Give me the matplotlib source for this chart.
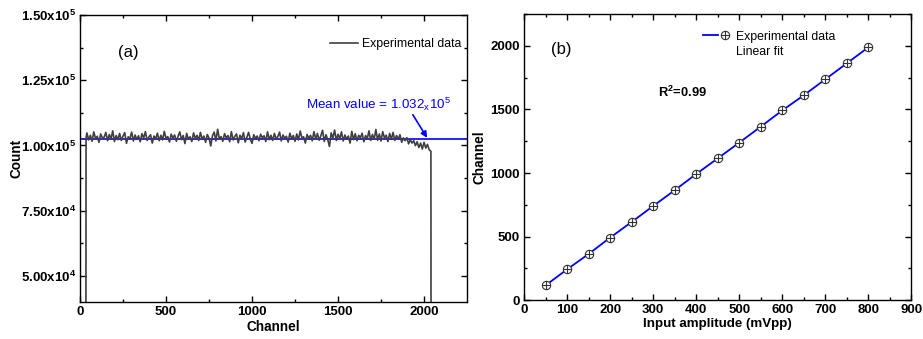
import numpy as np
import matplotlib
matplotlib.use("Agg")
import matplotlib.pyplot as plt
from matplotlib.path import Path
from matplotlib.lines import Line2D
from matplotlib.legend_handler import HandlerTuple

plt.rcParams['font.family'] = ['Liberation Sans', 'DejaVu Sans']
plt.rcParams['mathtext.fontset'] = 'custom'
plt.rcParams['mathtext.rm'] = 'Liberation Sans'
plt.rcParams['mathtext.bf'] = 'Liberation Sans:bold'

# ---------------- Panel (a) data ----------------
# counts in thousands, every 10 channels from 40 to 2030
chan_start = 35
chan_end = 2040
counts_k = [
    104.8, 102.1, 103.9, 101.6, 105.2, 102.7, 103.5, 101.2, 104.4, 102.9,
    103.1, 105.0, 101.8, 104.2, 102.4, 105.6, 101.5, 103.8, 102.2, 104.6,
    101.9, 103.6, 104.9, 100.8, 103.3, 102.6, 105.1, 101.7, 104.0, 102.3,
    103.7, 101.4, 104.5, 102.8, 105.3, 101.9, 103.2, 104.1, 100.9, 103.6,
    102.5, 104.7, 101.8, 103.9, 102.1, 105.4, 102.6, 103.4, 101.3, 104.3,
    102.9, 104.0, 101.6, 103.5, 105.2, 102.2, 103.8, 100.7, 104.6, 102.4,
    103.3, 101.5, 104.8, 102.7, 103.9, 101.9, 105.0, 102.3, 103.6, 101.2,
    104.2, 102.8, 99.8, 103.7, 105.1, 101.7, 106.2, 102.5, 103.4, 101.6,
    104.5, 102.9, 103.8, 101.4, 105.3, 102.1, 103.5, 104.4, 101.0, 103.9,
    102.6, 104.9, 101.3, 103.2, 105.0, 102.4, 100.8, 104.1, 102.7, 103.6,
    101.8, 104.3, 102.9, 103.7, 101.5, 105.2, 102.2, 103.9, 101.9, 104.6,
    102.5, 103.4, 105.1, 101.7, 104.0, 102.8, 103.5, 101.3, 104.7, 102.6,
    103.8, 101.6, 104.4, 102.1, 105.5, 102.9, 103.3, 100.9, 104.2, 102.7,
    103.9, 101.8, 105.3, 102.4, 104.6, 102.0, 103.7, 105.8, 101.5, 104.1,
    102.3, 99.6, 104.8, 102.8, 105.9, 101.9, 104.3, 102.6, 105.2, 101.7,
    104.0, 102.5, 103.6, 100.9, 105.4, 102.2, 104.5, 101.8, 103.9, 102.9,
    104.7, 101.4, 103.8, 102.6, 105.6, 101.9, 104.2, 102.4, 106.1, 102.0,
    104.4, 101.7, 105.3, 102.8, 103.9, 101.5, 104.6, 102.3, 105.0, 101.9,
    103.8, 102.4, 104.1, 101.2, 102.9, 101.8, 103.0, 100.6, 102.2, 100.9,
    101.8, 99.9, 101.4, 99.2, 100.9, 98.6, 101.2, 99.0, 100.4, 98.3,
]
first_count_k = 103.0
last_count_k = 97.8
mean_line = 102300
mean_text = r'Mean value = 1.032$_{\mathregular{x}}$10$^{\mathregular{5}}$'

channels = [chan_start - 1, chan_start] + list(range(40, 2031, 10)) + [chan_end, chan_end + 1]
counts = [0, first_count_k * 1000] + [c * 1000 for c in counts_k] + [last_count_k * 1000, 0]

a_yticks = [5.0e4, 7.5e4, 1.0e5, 1.25e5, 1.5e5]
a_ylabels = [r'$\mathbf{5.00x10^{4}}$', r'$\mathbf{7.50x10^{4}}$', r'$\mathbf{1.00x10^{5}}$',
             r'$\mathbf{1.25x10^{5}}$', r'$\mathbf{1.50x10^{5}}$']

# ---------------- Panel (b) data ----------------
amplitude = [50, 100, 150, 200, 250, 300, 350, 400, 450, 500, 550, 600, 650, 700, 750, 800]
channel_b = [115, 241, 362, 491, 614, 740, 864, 992, 1115, 1239, 1365, 1493, 1612, 1738, 1864, 1990]

fig = plt.figure(figsize=(9.23, 3.39), dpi=100)
axa = fig.add_axes([0.0867, 0.109, 0.4193, 0.847])
axb = fig.add_axes([0.5677, 0.115, 0.4198, 0.843])

for ax in (axa, axb):
    for s in ax.spines.values():
        s.set_linewidth(1.0)
    ax.tick_params(which='both', direction='in', top=True, right=True, width=1.0)
    ax.tick_params(which='major', length=4)
    ax.tick_params(which='minor', length=2)
    ax.tick_params(axis='both', labelsize=9.5, pad=3)

# ---- (a)
gray = '#3f3f3f'
axa.axhline(mean_line, color='#0000ff', lw=1.2, zorder=1)
axa.plot(channels, counts, color=gray, lw=1.2, label='Experimental data', zorder=2)
axa.set_xlim(0, 2250)
axa.set_ylim(4.0e4, 1.5e5)
axa.set_xticks([0, 500, 1000, 1500, 2000])
axa.set_xticks([250, 750, 1250, 1750], minor=True)
axa.set_xticklabels(['0', '500', '1000', '1500', '2000'], fontweight='bold')
axa.set_yticks(a_yticks)
axa.set_yticks([6.25e4, 8.75e4, 1.125e5, 1.375e5], minor=True)
axa.set_yticklabels(a_ylabels)
axa.set_xlabel('Channel', fontsize=9.8, fontweight='bold', labelpad=1)
axa.set_ylabel('Count', fontsize=9.8, fontweight='bold', labelpad=-2)
axa.text(0.098, 0.868, '(a)', transform=axa.transAxes, fontsize=12, va='center')
axa.text(1315, 1.157e5, mean_text, color='#0000ff', fontsize=9.6, va='center')
axa.annotate('', xy=(2018, 1.029e5), xytext=(1935, 1.1175e5),
             arrowprops=dict(arrowstyle='-|>', color='#0000ff', lw=1.2, mutation_scale=9,
                             shrinkA=0, shrinkB=0))
axa.legend(loc='center left', bbox_to_anchor=(0.646, 0.899), frameon=False, fontsize=8.8,
           handlelength=2.3, handletextpad=0.35, borderpad=0, borderaxespad=0)

# ---- (b)
circ = Path.unit_circle()
verts = np.concatenate([circ.vertices, [[-1, 0], [1, 0], [0, -1], [0, 1]]])
codes = np.concatenate([circ.codes, [Path.MOVETO, Path.LINETO, Path.MOVETO, Path.LINETO]])
cplus = Path(verts, codes)

axb.plot(amplitude, channel_b, color='#0000ff', lw=1.3, zorder=2)
axb.plot(amplitude, channel_b, ls='none', marker=cplus, ms=6, mfc='white', mec='#333333',
         mew=0.8, zorder=3)
axb.set_xlim(0, 900)
axb.set_ylim(0, 2250)
axb.set_xticks(range(0, 901, 100))
axb.set_xticks(range(50, 900, 100), minor=True)
axb.set_xticklabels([str(v) for v in range(0, 901, 100)], fontweight='bold')
axb.set_yticks(range(0, 2001, 500))
axb.set_yticks(range(250, 2251, 500), minor=True)
axb.set_yticklabels([str(v) for v in range(0, 2001, 500)], fontweight='bold')
axb.set_xlabel('Input amplitude (mVpp)', fontsize=9.6, fontweight='bold', labelpad=1)
axb.set_ylabel('Channel', fontsize=9.8, fontweight='bold', labelpad=3)
axb.text(0.07, 0.878, '(b)', transform=axb.transAxes, fontsize=12, va='center')
axb.text(311, 1632, r'R$^{\mathregular{2}}$=0.99', fontsize=9.3, fontweight='bold', va='center')

h_line = Line2D([], [], color='#0000ff', lw=1.3)
h_mark = Line2D([], [], ls='none', marker=cplus, ms=6, mfc='white', mec='#333333', mew=0.8)
h_none = Line2D([], [], ls='none')
axb.legend([(h_line, h_mark), h_none], ['Experimental data', 'Linear fit'],
           handler_map={tuple: HandlerTuple(ndivide=None, pad=0)},
           loc='upper left', bbox_to_anchor=(0.462, 0.943), frameon=False, fontsize=8.8,
           handlelength=2.4, handletextpad=0.3, labelspacing=0.25, borderpad=0,
           borderaxespad=0)

fig.savefig('out.png', dpi=100)
